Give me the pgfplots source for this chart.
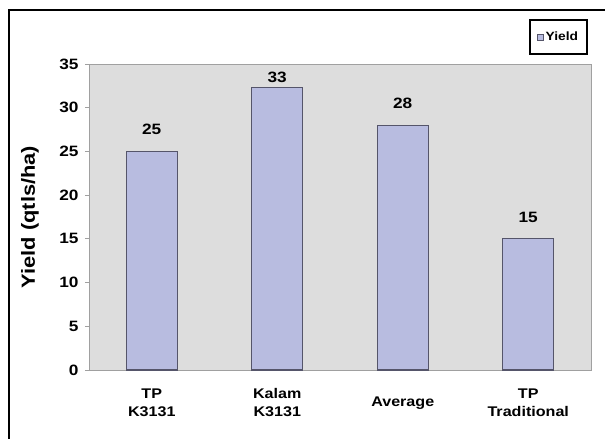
\documentclass[border=0pt]{standalone}
\usepackage{pgfplots}
\pgfplotsset{compat=1.18}
\usepackage{pgfplotstable}
\usepackage{fontspec}
\setmainfont{Liberation Sans}[FakeStretch=1.15]
\definecolor{bgc}{HTML}{DDDDDD}
\definecolor{barc}{HTML}{B8BCE0}
\definecolor{edgec}{HTML}{55556A}
\definecolor{axc}{HTML}{A0A0A0}

\pgfplotstableread{
x y lab
0 25 25
2 28 28
3 15 15
}\datatable
\pgfplotstableread{
x y lab
1 32.3 33
}\datatableb

\begin{document}
\begin{tikzpicture}
\useasboundingbox (-89pt,-69pt) rectangle (516pt,370pt);
\begin{axis}[
  at={(0pt,0pt)}, anchor=south west,
  scale only axis, width=502pt, height=306pt,
  xmin=-0.5, xmax=3.5, ymin=0, ymax=35,
  ytick={0,5,...,35},
  xtick={0,1,2,3},
  xticklabels={{TP\\K3131},{Kalam\\K3131},{Average},{TP\\Traditional}},
  x tick label style={align=center, anchor=center, yshift=-29pt,
    font=\bfseries\fontsize{14}{18}\selectfont},
  major x tick style={draw=none},
  extra x ticks={-0.5,0.5,1.5,2.5,3.5},
  extra x tick labels={},
  extra x tick style={major tick length=4pt, tick style={draw=axc, line width=0.8pt}},
  tick align=outside, tick pos=left,
  y tick style={draw=axc, line width=0.8pt},
  major tick length=4pt,
  /pgf/number format/assume math mode=true,
  y tick label style={font=\bfseries\fontsize{15}{17}\selectfont, xshift=-3pt},
  axis background/.style={fill=bgc},
  axis line style={draw=axc, line width=0.8pt},
  ylabel={Yield (qtls/ha)},
  ylabel style={at={(axis description cs:-0.1175,0.5)}, anchor=center,
    font=\bfseries\fontsize{19}{21}\selectfont},
  legend style={at={(axis description cs:0.994,1.147)}, anchor=north east,
    draw=black, line width=1.8pt, fill=white,
    font=\bfseries\fontsize{12}{14}\selectfont, inner xsep=7pt, inner ysep=10pt},
  legend image code/.code={\draw[fill=barc, draw=edgec, line width=0.7pt] (0pt,-3pt) rectangle (6pt,3pt);},
  point meta=explicit symbolic,
]
\addplot[ybar, bar width=51pt, bar shift=0pt, fill=barc, draw=edgec, line width=1.2pt,
  nodes near coords,
  every node near coord/.append style={font=\bfseries\fontsize{15}{17}\selectfont,
    anchor=south, inner sep=0pt, yshift=16pt}]
  table[x=x, y=y, meta=lab]{\datatable};
\addlegendentry{Yield}
\addplot[ybar, bar width=51pt, bar shift=0pt, fill=barc, draw=edgec, line width=1.2pt,
  forget plot, nodes near coords,
  every node near coord/.append style={font=\bfseries\fontsize{15}{17}\selectfont,
    anchor=south, inner sep=0pt, yshift=4pt}]
  table[x=x, y=y, meta=lab]{\datatableb};
\end{axis}
\draw[line width=2.5pt, black] (-80pt,-80pt) -- (-80pt,360pt) -- (530pt,360pt);
\end{tikzpicture}
\end{document}
